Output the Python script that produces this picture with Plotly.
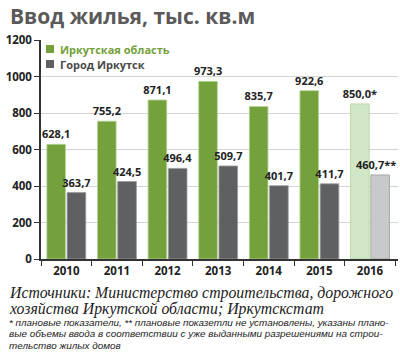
import plotly.graph_objects as go

years = ["2010", "2011", "2012", "2013", "2014", "2015", "2016"]
region_vals = [628.1, 755.2, 871.1, 973.3, 835.7, 922.6, 850.0]
city_vals = [363.7, 424.5, 496.4, 509.7, 401.7, 411.7, 460.7]
region_labels = ["628,1", "755,2", "871,1", "973,3", "835,7", "922,6", "850,0*"]
city_labels = ["363,7", "424,5", "496,4", "509,7", "401,7", "411,7", "460,7**"]
y_ticks = [0, 200, 400, 600, 800, 1000, 1200]

GREEN = "#74a13b"
GREEN_LIGHT = "#d0e6c6"
GRAY = "#5f6062"
GRAY_LIGHT = "#c8c9ca"

region_colors = [GREEN] * 6 + [GREEN_LIGHT]
city_colors = [GRAY] * 6 + [GRAY_LIGHT]

W, H = 400, 355
L, R, T, B = 41, 2, 40, 96
PH = H - T - B
PW = W - L - R

def py(p):
    return (H - B - p) / PH

def px(p):
    return (p - L) / PW

LBL_FONT = dict(family="Open Sans", size=11, color="#222", weight="bold")

# the last city label sits at the right edge; it is drawn as an annotation
city_bar_text = city_labels[:-1] + [""]
last_idx = len(years) - 1  # category index on the x axis

fig = go.Figure()
fig.add_bar(x=years, y=region_vals, name="Иркутская область",
            marker=dict(color=region_colors, line=dict(color="#b5d39a", width=0.8)),
            text=region_labels, textposition="outside", cliponaxis=False,
            constraintext="none", textangle=0, textfont=LBL_FONT)
fig.add_bar(x=years, y=city_vals, name="Город Иркутск",
            marker=dict(color=city_colors, line=dict(color="#9a9a9a", width=0.8)),
            text=city_bar_text, textposition="outside", cliponaxis=False,
            constraintext="none", textangle=0, textfont=LBL_FONT)

fig.update_layout(
    width=W, height=H,
    margin=dict(l=L, r=R, t=T, b=B),
    paper_bgcolor="white", plot_bgcolor="white",
    barmode="group", bargap=0.2, bargroupgap=0.08,
    font=dict(family="Open Sans", color="#222"),
    showlegend=False,
    xaxis=dict(type="category", tickson="boundaries", ticks="outside", ticklen=5,
               tickcolor="#333", showline=True, linecolor="#333", linewidth=1.5,
               showgrid=False,
               tickfont=dict(family="Open Sans", size=11.5, color="#222", weight="bold")),
    yaxis=dict(range=[0, 1200], tickvals=y_ticks, ticks="outside", ticklen=5,
               tickcolor="#333", showline=True, linecolor="#333", linewidth=1.5,
               gridcolor="#d4d4d4", gridwidth=1, zeroline=False,
               tickfont=dict(family="Open Sans", size=11.5, color="#222", weight="bold")),
)

ann = []
ann.append(dict(text=city_labels[-1], x=last_idx, y=city_vals[-1], xref="x", yref="y",
                xanchor="center", yanchor="bottom", xshift=6, yshift=1, showarrow=False,
                font=LBL_FONT))
ann.append(dict(text="<b>Ввод жилья, тыс. кв.м</b>", x=px(8), y=py(16), xref="paper", yref="paper",
                xanchor="left", yanchor="middle", showarrow=False,
                font=dict(family="Open Sans", size=21, color="#5a5a5a")))
for i, (lbl, col) in enumerate([("Иркутская область", GREEN), ("Город Иркутск", GRAY)]):
    yc = 49 + i * 15
    fig.add_shape(type="rect", xref="paper", yref="paper",
                  x0=px(46), x1=px(54), y0=py(yc + 4), y1=py(yc - 4),
                  fillcolor=col, line=dict(width=0))
    ann.append(dict(text="<b>" + lbl + "</b>", x=px(58), y=py(yc), xref="paper", yref="paper",
                    xanchor="left", yanchor="middle", showarrow=False,
                    font=dict(family="Open Sans", size=11, color=col if i == 0 else "#4a4a4a")))
src_lines = ["Источники: Министерство строительства, дорожного",
             "хозяйства Иркутской области; Иркутскстат"]
for i, s in enumerate(src_lines):
    ann.append(dict(text="<i>" + s + "</i>", x=px(7), y=py(293 + i * 16), xref="paper", yref="paper",
                    xanchor="left", yanchor="middle", align="left", showarrow=False,
                    font=dict(family="Liberation Serif", size=15.8, color="#222")))
foot_lines = ["* плановые показатели, ** плановые показетли не установлены, указаны плано-",
              "вые объемы ввода в соответствии с уже выданными разрешениями на строи-",
              "тельство жилых домов"]
for i, s in enumerate(foot_lines):
    ann.append(dict(text="<i>" + s + "</i>", x=px(7), y=py(322 + i * 11.5), xref="paper", yref="paper",
                    xanchor="left", yanchor="middle", align="left", showarrow=False,
                    font=dict(family="Liberation Sans", size=9.9, color="#222")))
fig.update_layout(annotations=ann)

fig.write_html("out.html", config={"displayModeBar": False},
               post_script="document.body.style.margin='0';")
